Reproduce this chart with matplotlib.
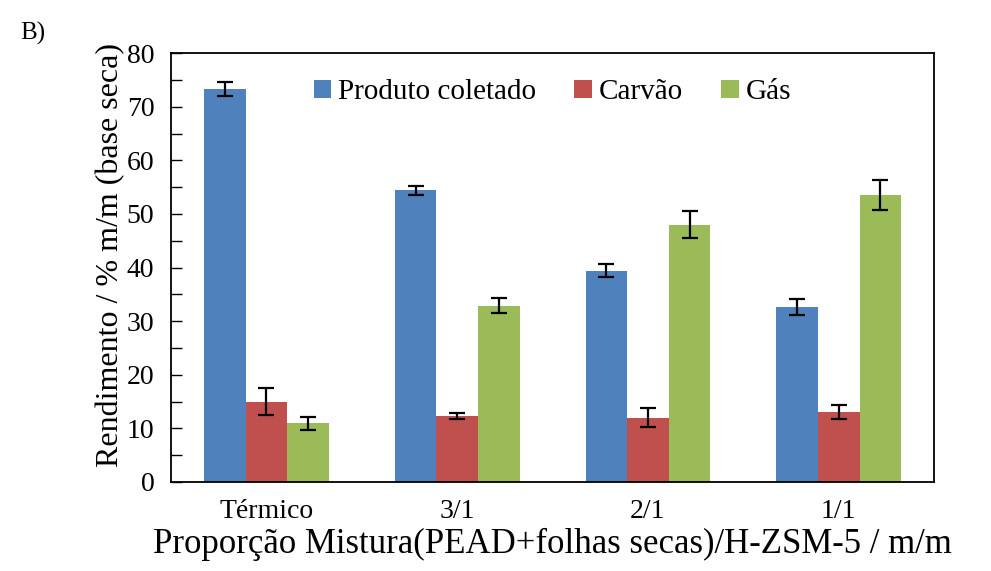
import numpy as np
import matplotlib
matplotlib.use("Agg")
import matplotlib.pyplot as plt
from matplotlib.ticker import MultipleLocator

plt.rcParams['font.family'] = ['Liberation Serif', 'DejaVu Serif']

# data
categorias = ["Térmico", "3/1", "2/1", "1/1"]
produto = [73.3, 54.4, 39.4, 32.6]
produto_err = [1.3, 0.8, 1.2, 1.5]
carvao = [15.0, 12.3, 12.0, 13.1]
carvao_err = [2.5, 0.6, 1.7, 1.3]
gas = [10.9, 32.9, 48.0, 53.5]
gas_err = [1.2, 1.35, 2.5, 2.8]

series = [("Produto coletado", produto, produto_err, "#4F81BD"),
          ("Carvão", carvao, carvao_err, "#C0504D"),
          ("Gás", gas, gas_err, "#9BBB59")]

fig = plt.figure(figsize=(9.91, 5.71), dpi=100)
ax = fig.add_axes([0.1726, 0.156, 0.77, 0.751])

x = np.arange(len(categorias))
w = 0.218
for i, (nome, vals, errs, cor) in enumerate(series):
    ax.bar(x + (i - 1) * w, vals, w, color=cor, label=nome,
           yerr=errs, error_kw=dict(ecolor="black", elinewidth=1.6,
                                    capsize=6, capthick=1.6))

ax.set_xlim(-0.5, len(categorias) - 0.5)
ax.set_ylim(0, 80)
ax.yaxis.set_major_locator(MultipleLocator(10))
ax.yaxis.set_minor_locator(MultipleLocator(5))
ax.tick_params(axis='y', which='both', direction='in', length=8, width=1,
               labelsize=20, pad=12)
ax.tick_params(axis='x', length=0, labelsize=20, pad=12)
ax.set_xticks(x)
ax.set_xticklabels(categorias)
for s in ax.spines.values():
    s.set_linewidth(1.3)

ax.set_ylabel("Rendimento / % m/m (base seca)", fontsize=23)
ax.yaxis.set_label_coords(-0.06, 0.53)
ax.set_xlabel("Proporção Mistura(PEAD+folhas secas)/H-ZSM-5 / m/m",
              fontsize=25, labelpad=3)

ax.legend(loc="upper center", bbox_to_anchor=(0.5, 1.0), ncol=3,
          frameon=False, fontsize=21, handlelength=0.6, handleheight=0.6,
          handletextpad=0.25, columnspacing=1.3)

fig.text(0.02, 0.93, "B)", fontsize=18)

fig.savefig("out.png", dpi=100)
